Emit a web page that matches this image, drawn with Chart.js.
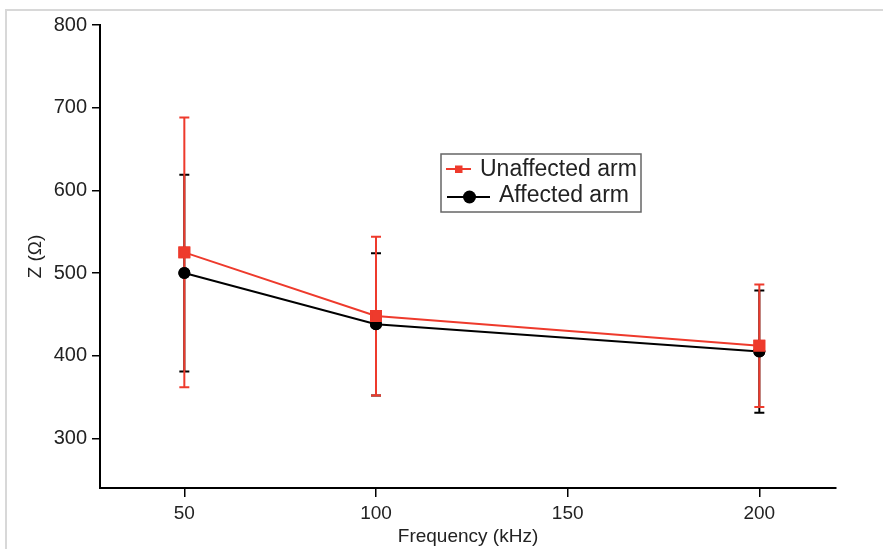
<!DOCTYPE html>
<html>
<head>
<meta charset="utf-8">
<script src="https://cdn.jsdelivr.net/npm/chart.js@4.4.1/dist/chart.umd.min.js"></script>
<style>
  html, body { margin: 0; padding: 0; background: #fff; }
  #wrap { width: 883px; height: 549px; position: relative; }
</style>
</head>
<body>
<div id="wrap"><canvas id="zChart"></canvas></div>
<script>
// data
const frequencies = [50, 100, 200];
const unaffectedMean = [525, 448, 412];
const unaffectedErr = [163, 96, 74];
const affectedMean = [500, 438, 405];
const affectedErr = [119, 86, 74];
const xTicks = [50, 100, 150, 200];
const yTicks = [300, 400, 500, 600, 700, 800];

const RED = "#ee3a2c";
const BLACK = "#000";
const FONT = "'Liberation Sans', Arial, sans-serif";

function toPoints(means) {
  return frequencies.map((f, i) => ({ x: f, y: means[i] }));
}

// draws vertical error bars with caps for each dataset
const errorBars = {
  id: "errorBars",
  afterDatasetsDraw(chart) {
    const ctx = chart.ctx;
    const xs = chart.scales.x, ys = chart.scales.y;
    [1, 0].forEach((di) => {
      const ds = chart.data.datasets[di];
      ctx.save();
      ctx.strokeStyle = ds.borderColor;
      ctx.lineWidth = 2;
      ds.data.forEach((p, i) => {
        const px = xs.getPixelForValue(p.x);
        const top = ys.getPixelForValue(p.y + ds.errors[i]);
        const bot = ys.getPixelForValue(p.y - ds.errors[i]);
        ctx.beginPath();
        ctx.moveTo(px, top); ctx.lineTo(px, bot);
        ctx.moveTo(px - 5, top); ctx.lineTo(px + 5, top);
        ctx.moveTo(px - 5, bot); ctx.lineTo(px + 5, bot);
        ctx.stroke();
      });
      ctx.restore();
    });
    // redraw markers on top of bars
    [1, 0].forEach((di) => {
      chart.getDatasetMeta(di).data.forEach((el) => el.draw(ctx));
    });
  },
};

// boxed legend inside the plot, plus the faint frame
const boxLegend = {
  id: "boxLegend",
  beforeDraw(chart) {
    const ctx = chart.ctx;
    ctx.save();
    ctx.strokeStyle = "#d8d8d8";
    ctx.lineWidth = 2;
    ctx.beginPath();
    ctx.moveTo(6, 549); ctx.lineTo(6, 10); ctx.lineTo(883, 10);
    ctx.stroke();
    ctx.restore();
  },
  afterDraw(chart) {
    const ctx = chart.ctx;
    const x0 = 441, y0 = 154, w = 200, h = 58;
    ctx.save();
    ctx.fillStyle = "#fff";
    ctx.fillRect(x0, y0, w, h);
    ctx.strokeStyle = "#666";
    ctx.lineWidth = 1.5;
    ctx.strokeRect(x0, y0, w, h);
    ctx.font = "23px " + FONT;
    ctx.textBaseline = "middle";
    const ds = chart.data.datasets;
    // unaffected
    ctx.strokeStyle = RED; ctx.lineWidth = 2;
    ctx.beginPath(); ctx.moveTo(446, 169); ctx.lineTo(471, 169); ctx.stroke();
    ctx.fillStyle = RED; ctx.fillRect(455, 165.5, 7.5, 7.5);
    ctx.fillStyle = "#222";
    ctx.fillText(ds[0].label, 480, 170);
    // affected
    ctx.strokeStyle = BLACK;
    ctx.beginPath(); ctx.moveTo(447, 197); ctx.lineTo(490, 197); ctx.stroke();
    ctx.fillStyle = BLACK;
    ctx.beginPath(); ctx.arc(469.5, 197, 6.5, 0, Math.PI * 2); ctx.fill();
    ctx.fillStyle = "#222";
    ctx.fillText(ds[1].label, 499, 196);
    ctx.restore();
  },
};

new Chart(document.getElementById("zChart"), {
  type: "line",
  data: {
    datasets: [
      {
        label: "Unaffected arm",
        data: toPoints(unaffectedMean),
        errors: unaffectedErr,
        borderColor: RED,
        backgroundColor: RED,
        borderWidth: 2,
        pointStyle: "rect",
        pointRadius: 7,
        pointHoverRadius: 7,
        order: 0,
      },
      {
        label: "Affected arm",
        data: toPoints(affectedMean),
        errors: affectedErr,
        borderColor: BLACK,
        backgroundColor: BLACK,
        borderWidth: 2,
        pointStyle: "circle",
        pointRadius: 5,
        pointHoverRadius: 5,
        order: 1,
      },
    ],
  },
  options: {
    responsive: true,
    maintainAspectRatio: false,
    animation: false,
    layout: { padding: { top: 25, right: 47, left: 0, bottom: 0 } },
    plugins: { legend: { display: false }, tooltip: { enabled: false } },
    scales: {
      x: {
        type: "linear",
        min: 28,
        max: 220,
        afterBuildTicks: (s) => { s.ticks = xTicks.map((v) => ({ value: v })); },
        afterFit: (s) => { s.height = 61; },
        grid: { drawOnChartArea: false, drawTicks: true, tickLength: 9, color: "#000", lineWidth: 1.5 },
        border: { display: true, color: "#000", width: 2 },
        ticks: { color: "#222", font: { family: FONT, size: 19 }, padding: 5 },
        title: { display: true, text: "Frequency (kHz)", color: "#222", font: { family: FONT, size: 19 }, padding: { top: 0, bottom: 1 } },
      },
      y: {
        min: 240,
        max: 800,
        afterBuildTicks: (s) => { s.ticks = yTicks.map((v) => ({ value: v })); },
        afterFit: (s) => { s.width = 100; },
        grid: { drawOnChartArea: false, drawTicks: true, tickLength: 8, color: "#000", lineWidth: 1.5 },
        border: { display: true, color: "#000", width: 2 },
        ticks: { color: "#222", font: { family: FONT, size: 20 }, padding: 5 },
        title: { display: true, text: "Z (Ω)", color: "#222", font: { family: FONT, size: 19 }, padding: { top: 24, bottom: 0 } },
      },
    },
  },
  plugins: [errorBars, boxLegend],
});
</script>
</body>
</html>
